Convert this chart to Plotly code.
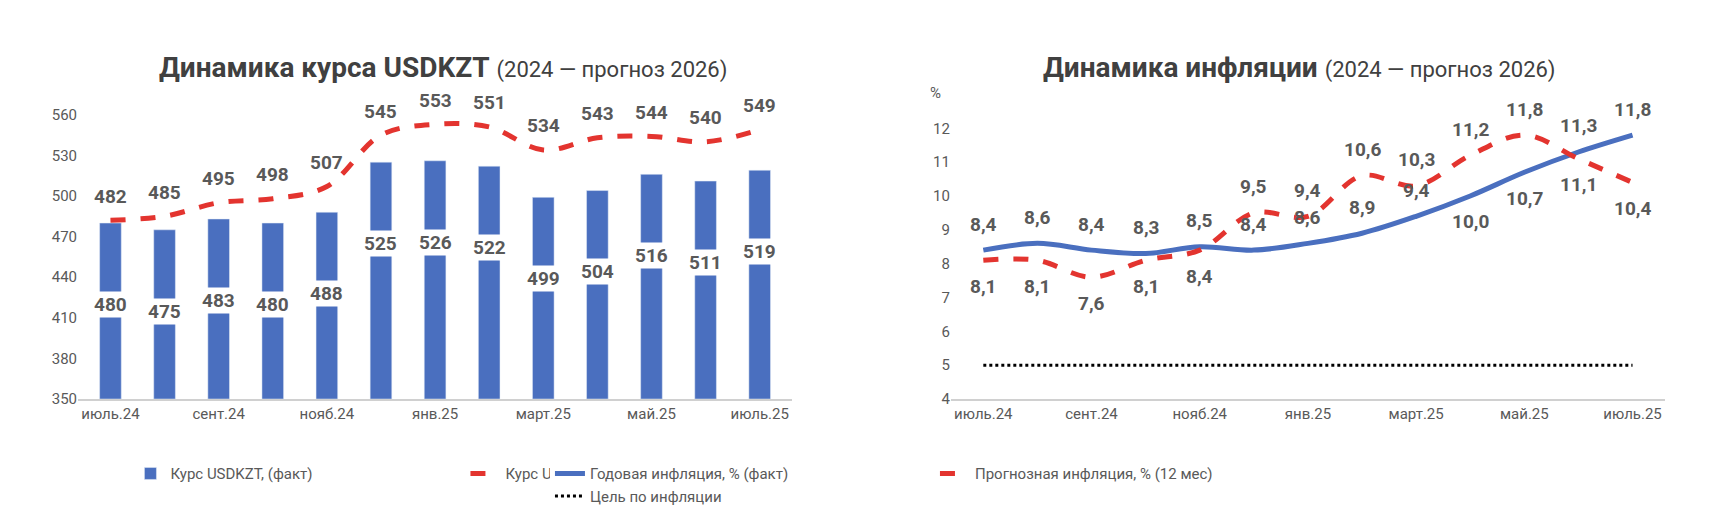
import plotly.graph_objects as go
from plotly.subplots import make_subplots

months = ["июль.24", "авг.24", "сент.24", "окт.24", "нояб.24", "дек.24", "янв.25",
          "февр.25", "март.25", "апр.25", "май.25", "июнь.25", "июль.25"]
usd_fact = [480, 475, 483, 480, 488, 525, 526, 522, 499, 504, 516, 511, 519]
usd_fwd = [482, 485, 495, 498, 507, 545, 553, 551, 534, 543, 544, 540, 549]
infl_fact = [8.4, 8.6, 8.4, 8.3, 8.5, 8.4, 8.6, 8.9, 9.4, 10.0, 10.7, 11.3, 11.8]
infl_fcst = [8.1, 8.1, 7.6, 8.1, 8.4, 9.5, 9.4, 10.6, 10.3, 11.2, 11.8, 11.1, 10.4]
infl_target = [5] * 13
# label side: 1 above, -1 below
fact_side = [1, 1, 1, 1, 1, 1, 1, 1, 1, -1, -1, 1, 1]
fcst_side = [-1, -1, -1, -1, -1, 1, 1, 1, 1, 1, 1, -1, -1]

FONT = "Roboto, sans-serif"
GREY = "#595959"
BLUE = "#4a6fbf"
RED = "#e3342f"
x = list(range(len(months)))

fig = make_subplots(rows=1, cols=2, horizontal_spacing=0.1)

fig.add_bar(x=x, y=[v - 350 for v in usd_fact], base=350, marker_color=BLUE, width=0.4,
            name="Курс USDKZT, (факт)", legend="legend", row=1, col=1)
fig.add_scatter(x=x, y=usd_fwd, mode="lines", line=dict(color=RED, width=5, dash="dash", shape="spline"),
                name="Курс USDKZT, (через 12 мес)", legend="legend", row=1, col=1)
fig.add_scatter(x=x, y=infl_fact, mode="lines", line=dict(color=BLUE, width=5, shape="spline"),
                name="Годовая инфляция, % (факт)", legend="legend2", row=1, col=2)
fig.add_scatter(x=x, y=infl_fcst, mode="lines", line=dict(color=RED, width=5, dash="dash", shape="spline"),
                name="Прогнозная инфляция, % (12 мес)", legend="legend2", row=1, col=2)
fig.add_scatter(x=x, y=infl_target, mode="lines", line=dict(color="black", width=3, dash="dot"),
                name="Цель по инфляции", legend="legend2", row=1, col=2)

lab = dict(size=19, color=GREY, family=FONT)
for i in x:
    fig.add_annotation(x=i, y=usd_fact[i] - 60, text=f"<b>{usd_fact[i]}</b>", showarrow=False,
                       bgcolor="white", font=lab, xref="x", yref="y")
    fig.add_annotation(x=i, y=usd_fwd[i], yshift=24, text=f"<b>{usd_fwd[i]}</b>", showarrow=False,
                       font=lab, xref="x", yref="y")
    fig.add_annotation(x=i, y=infl_fact[i], yshift=26 * fact_side[i],
                       text=f"<b>{str(infl_fact[i]).replace('.', ',')}</b>", showarrow=False,
                       font=lab, xref="x2", yref="y2")
    fig.add_annotation(x=i, y=infl_fcst[i], yshift=26 * fcst_side[i],
                       text=f"<b>{str(infl_fcst[i]).replace('.', ',')}</b>", showarrow=False,
                       font=lab, xref="x2", yref="y2")

tick_idx = x[::2]
axis_common = dict(tickvals=tick_idx, ticktext=[months[i] for i in tick_idx], range=[-0.6, 12.6],
                   showgrid=False, showline=True, linecolor="#d0d0d0", linewidth=2,
                   tickfont=dict(size=15, color=GREY, family=FONT))
fig.update_xaxes(**axis_common)
fig.update_yaxes(showgrid=False, tickfont=dict(size=15, color=GREY, family=FONT))
fig.update_yaxes(range=[350, 565], tickvals=list(range(350, 561, 30)), row=1, col=1)
fig.update_yaxes(range=[4, 12.6], dtick=1, row=1, col=2)

fig.add_annotation(x=0, y=1.0, xref="x2 domain", yref="y2 domain", text="%", showarrow=False,
                   font=dict(size=15, color=GREY, family=FONT), xanchor="right", yanchor="bottom",
                   xshift=-8, yshift=4)

title_font = dict(size=28, color="#404040", family=FONT)
fig.add_annotation(x=0.23, y=1.0, xref="paper", yref="paper", xanchor="center", yanchor="bottom",
                   showarrow=False,
                   text="<b>Динамика курса USDKZT</b> <span style='font-size:22px'>(2024 — прогноз 2026)</span>",
                   font=title_font, yshift=22)
fig.add_annotation(x=0.77, y=1.0, xref="paper", yref="paper", xanchor="center", yanchor="bottom",
                   showarrow=False,
                   text="<b>Динамика инфляции</b> <span style='font-size:22px'>(2024 — прогноз 2026)</span>",
                   font=title_font, yshift=22)

leg_font = dict(size=15, color=GREY, family=FONT)
fig.update_layout(
    width=1709, height=521, plot_bgcolor="white", paper_bgcolor="white",
    margin=dict(l=70, r=40, t=100, b=130), barmode="overlay",
    legend=dict(orientation="h", x=0.06, xanchor="left", y=-0.2, yanchor="top", font=leg_font,
                entrywidth=290, entrywidthmode="pixels"),
    legend2=dict(orientation="h", x=0.54, xanchor="left", y=-0.2, yanchor="top", font=leg_font,
                 entrywidth=340, entrywidthmode="pixels"),
)
fig.write_html("out.html")
